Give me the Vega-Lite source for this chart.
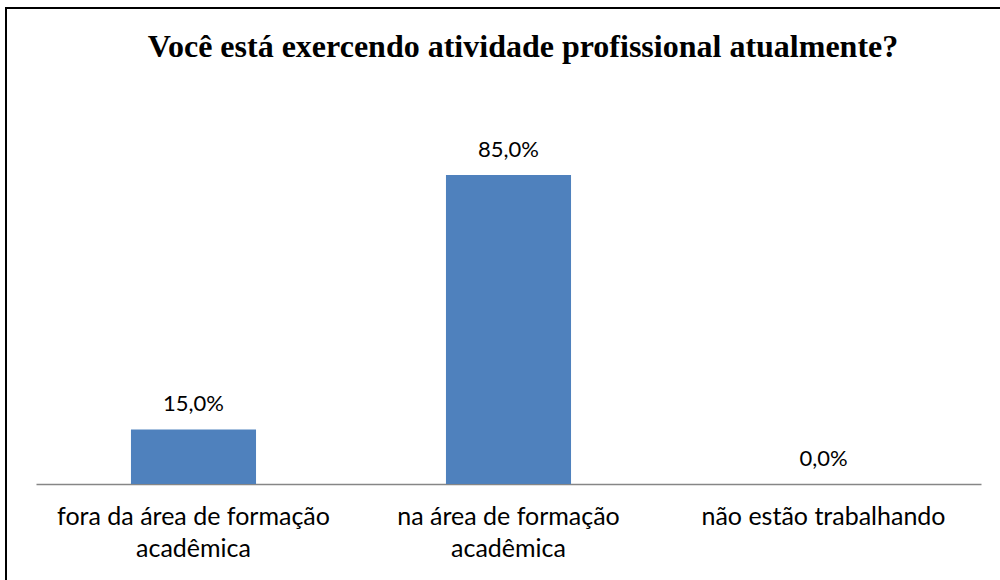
{
  "$schema": "https://vega.github.io/schema/vega-lite/v6.json",
  "autosize": {"type": "none"},
  "width": 1000,
  "height": 600,
  "padding": {"left": 6, "top": 8, "right": 0, "bottom": 0},
  "background": "white",
  "title": {
    "text": "Você está exercendo atividade profissional atualmente?",
    "font": "Liberation Serif",
    "fontSize": 32,
    "fontWeight": "bold",
    "color": "black",
    "anchor": "middle",
    "frame": "group",
    "dx": 17,
    "offset": -56
  },
  "config": {
    "view": {"stroke": "black", "strokeWidth": 2},
    "locale": {"number": {"decimal": ",", "thousands": ".", "grouping": [3], "currency": ["R$", ""]}}
  },
  "data": {
    "values": [
      {"categoria": "fora da área de formação acadêmica", "valor": 0.15},
      {"categoria": "na área de formação acadêmica", "valor": 0.85},
      {"categoria": "não estão trabalhando", "valor": 0.0}
    ]
  },
  "encoding": {
    "x": {
      "field": "categoria",
      "type": "nominal",
      "sort": null,
      "scale": {"range": [30, 975], "paddingInner": 0.603, "paddingOuter": 0.3015},
      "axis": {
        "title": null,
        "offset": -124,
        "domainColor": "#868686",
        "domainWidth": 1.5,
        "ticks": false,
        "labelAngle": 0,
        "labelFont": "Lato",
        "labelFontSize": 25,
        "labelColor": "black",
        "labelPadding": 20,
        "labelLineHeight": 32,
        "labelLimit": 400,
        "labelExpr": "datum.value == 'fora da área de formação acadêmica' ? ['fora da área de formação', 'acadêmica'] : datum.value == 'na área de formação acadêmica' ? ['na área de formação', 'acadêmica'] : datum.value"
      }
    },
    "y": {
      "field": "valor",
      "type": "quantitative",
      "scale": {"domain": [0, 1], "range": [476, 112.5], "nice": false, "zero": true},
      "axis": null
    }
  },
  "layer": [
    {"mark": {"type": "bar", "color": "#4F81BD"}},
    {
      "mark": {"type": "text", "baseline": "alphabetic", "dy": -18, "font": "Lato", "fontSize": 22, "color": "black"},
      "encoding": {"text": {"field": "valor", "type": "quantitative", "format": ".1%"}}
    }
  ]
}
